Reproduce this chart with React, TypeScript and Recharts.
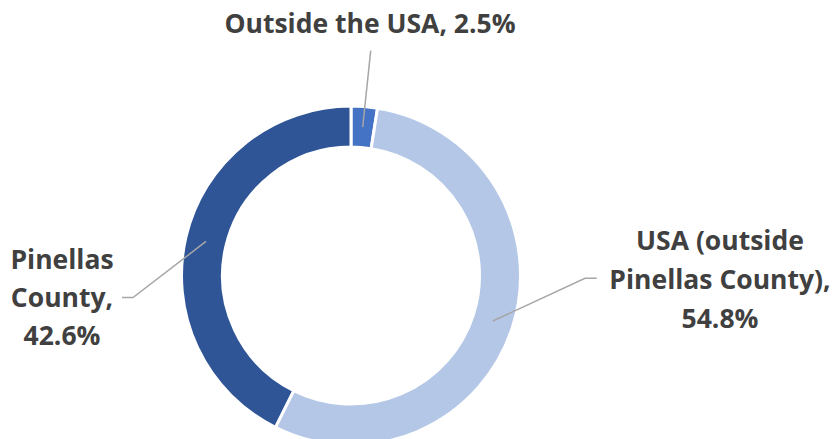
import React, { useLayoutEffect } from "react";
import { PieChart, Pie, Cell } from "recharts";

const categories = ["Outside the USA", "USA (outside Pinellas County)", "Pinellas County"];
const values = [2.5, 54.8, 42.6];
const colors = ["#4472C4", "#B4C7E7", "#2F5597"];
const labelLines = [
  ["Outside the USA, 2.5%"],
  ["USA (outside", "Pinellas County),", "54.8%"],
  ["Pinellas", "County,", "42.6%"],
];

const data = categories.map((name, i) => ({ name, value: values[i] }));

// label layout relative to the pie center
const labelLayout = [
  { tx: 19, ty: -242.6, lh: 38, pts: [[19.7, -225]] },
  { tx: 369, ty: -25.6, lh: 39, pts: [[234, 2.7], [245.7, 2.7]] },
  { tx: -289, ty: -6.6, lh: 38, pts: [[-218, 22], [-229, 22]] },
];

const RAD = Math.PI / 180;

const renderLabel = (props: any) => {
  const { cx, cy, midAngle, innerRadius, outerRadius, index } = props;
  const L = labelLayout[index];
  const r = (innerRadius + outerRadius) / 2;
  const sx = cx + r * Math.cos(-midAngle * RAD);
  const sy = cy + r * Math.sin(-midAngle * RAD);
  const pts = [[sx, sy], ...L.pts.map(([dx, dy]) => [cx + dx, cy + dy])];
  const d = pts.map((p, i) => `${i === 0 ? "M" : "L"}${p[0]},${p[1]}`).join(" ");
  return (
    <g key={`lbl-${index}`}>
      <path d={d} stroke="#A6A6A6" strokeWidth={1.5} fill="none" />
      <text
        x={cx + L.tx}
        y={cy + L.ty}
        textAnchor="middle"
        fill="#404040"
        fontFamily="'Open Sans', sans-serif"
        fontWeight="bold"
        fontSize={26.5}
      >
        {labelLines[index].map((t, j) => (
          <tspan key={j} x={cx + L.tx} dy={j === 0 ? 0 : L.lh}>
            {t}
          </tspan>
        ))}
      </text>
    </g>
  );
};

export default function App() {
  useLayoutEffect(() => {
    document.body.style.margin = "0";
  }, []);
  return (
    <div style={{ width: 833, height: 439, background: "#fff" }}>
      <PieChart width={833} height={439} margin={{ top: 0, right: 0, bottom: 0, left: 0 }}>
        <Pie
          data={data}
          dataKey="value"
          nameKey="name"
          cx={351}
          cy={275.6}
          innerRadius={128.5}
          outerRadius={169.5}
          startAngle={90}
          endAngle={-270}
          stroke="#ffffff"
          strokeWidth={3}
          label={renderLabel}
          labelLine={false}
          isAnimationActive={false}
        >
          {data.map((d, i) => (
            <Cell key={d.name} fill={colors[i]} />
          ))}
        </Pie>
      </PieChart>
    </div>
  );
}
